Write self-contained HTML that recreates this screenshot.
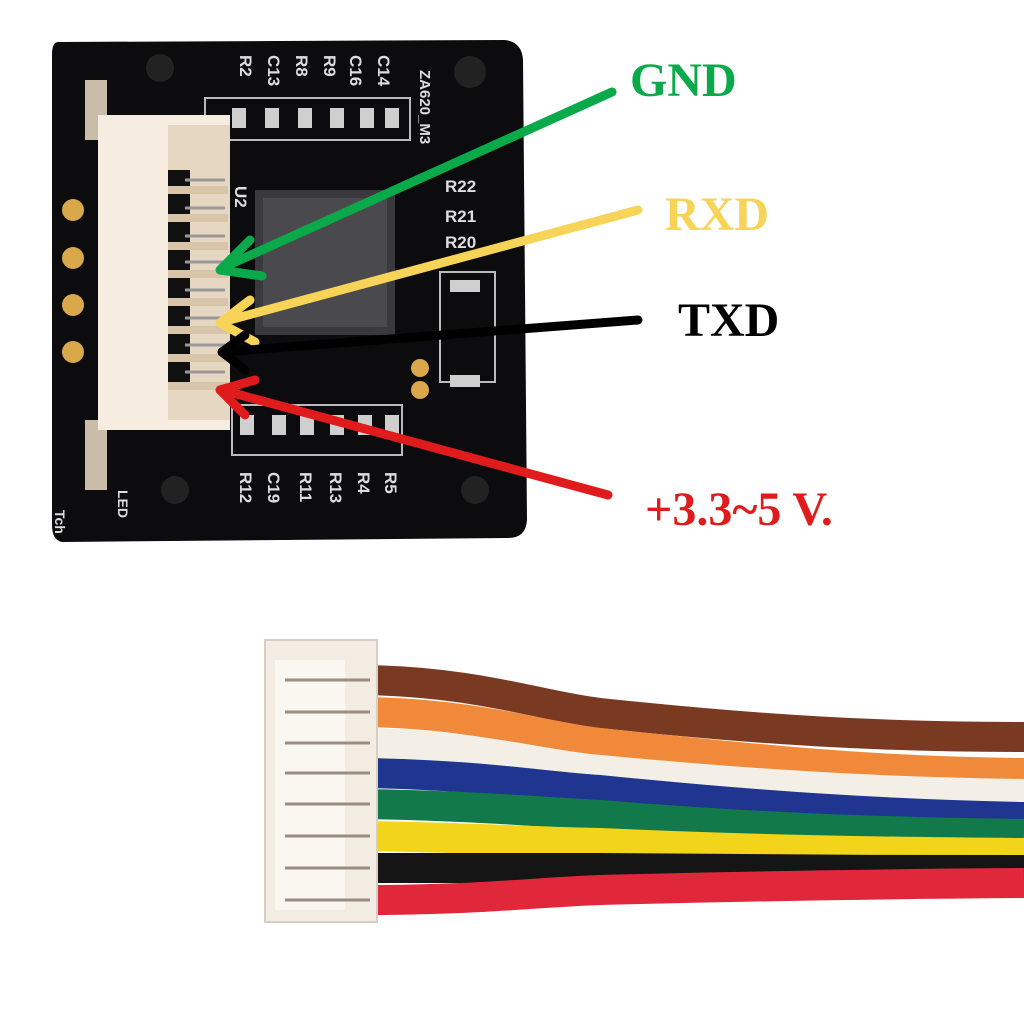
<!DOCTYPE html>
<html><head><meta charset="utf-8"><style>html,body{margin:0;padding:0;background:#fff}svg{display:block}</style></head>
<body>
<svg width="1024" height="1024" viewBox="0 0 1024 1024" xmlns="http://www.w3.org/2000/svg">
<rect width="1024" height="1024" fill="#fff"/>
<!-- PCB -->
<path d="M58,42 L505,40 Q522,42 523,60 L527,520 Q526,538 508,538 L62,542 Q52,540 52,525 L52,55 Q52,42 58,42 Z" fill="#0c0c0e"/>
<g stroke="#bbb" stroke-width="2" fill="none">
<rect x="205" y="98" width="205" height="42"/>
<rect x="440" y="272" width="55" height="110"/>
<rect x="232" y="405" width="170" height="50"/>
</g>
<g fill="#cfcfcf">
<rect x="232" y="108" width="14" height="20"/><rect x="265" y="108" width="14" height="20"/><rect x="298" y="108" width="14" height="20"/><rect x="330" y="108" width="14" height="20"/><rect x="360" y="108" width="14" height="20"/><rect x="385" y="108" width="14" height="20"/>
<rect x="240" y="415" width="14" height="20"/><rect x="272" y="415" width="14" height="20"/><rect x="300" y="415" width="14" height="20"/><rect x="330" y="415" width="14" height="20"/><rect x="358" y="415" width="14" height="20"/><rect x="385" y="415" width="14" height="20"/>
<rect x="450" y="280" width="30" height="12"/><rect x="450" y="375" width="30" height="12"/>
</g>
<g fill="#d9a84a">
<circle cx="73" cy="210" r="11"/><circle cx="73" cy="258" r="11"/><circle cx="73" cy="305" r="11"/><circle cx="73" cy="352" r="11"/>
<circle cx="420" cy="368" r="9"/><circle cx="420" cy="390" r="9"/>
</g>
<circle cx="160" cy="68" r="14" fill="#222"/><circle cx="470" cy="72" r="16" fill="#222"/>
<circle cx="175" cy="490" r="14" fill="#222"/><circle cx="475" cy="490" r="14" fill="#222"/>
<rect x="255" y="190" width="140" height="145" fill="#3a3a3e"/>
<rect x="263" y="198" width="124" height="129" fill="#4a4a4e"/>
<g fill="#ddd" font-family="Liberation Sans, sans-serif" font-weight="bold" font-size="17">
<text x="240" y="472" transform="rotate(90 240 472)">R12</text>
<text x="268" y="472" transform="rotate(90 268 472)">C19</text>
<text x="300" y="472" transform="rotate(90 300 472)">R11</text>
<text x="330" y="472" transform="rotate(90 330 472)">R13</text>
<text x="358" y="472" transform="rotate(90 358 472)">R4</text>
<text x="385" y="472" transform="rotate(90 385 472)">R5</text>
<text x="240" y="55" transform="rotate(90 240 55)">R2</text>
<text x="268" y="55" transform="rotate(90 268 55)">C13</text>
<text x="296" y="55" transform="rotate(90 296 55)">R8</text>
<text x="324" y="55" transform="rotate(90 324 55)">R9</text>
<text x="350" y="55" transform="rotate(90 350 55)">C16</text>
<text x="378" y="55" transform="rotate(90 378 55)">C14</text>
<text x="420" y="70" transform="rotate(90 420 70)" font-size="15">ZA620_M3</text>
<text x="445" y="192">R22</text><text x="445" y="222">R21</text><text x="445" y="248">R20</text>
<text x="235" y="186" transform="rotate(90 235 186)">U2</text>
<text x="55" y="510" transform="rotate(90 55 510)" font-size="14">Tch</text>
<text x="118" y="490" transform="rotate(90 118 490)" font-size="14">LED</text>
</g>
<!-- connector on PCB -->
<rect x="85" y="80" width="22" height="60" fill="#c9bca8"/>
<rect x="85" y="420" width="22" height="70" fill="#c9bca8"/>
<rect x="98" y="115" width="132" height="315" fill="#f6ecdf"/>
<rect x="168" y="125" width="62" height="295" fill="#e6d7c2"/>
<rect x="168" y="170" width="22" height="215" fill="#111"/>
<g stroke="#d8c4a8" stroke-width="8">
<line x1="168" y1="190" x2="228" y2="190"/><line x1="168" y1="218" x2="228" y2="218"/><line x1="168" y1="246" x2="228" y2="246"/><line x1="168" y1="274" x2="228" y2="274"/><line x1="168" y1="302" x2="228" y2="302"/><line x1="168" y1="330" x2="228" y2="330"/><line x1="168" y1="358" x2="228" y2="358"/><line x1="168" y1="386" x2="228" y2="386"/>
</g>
<g stroke="#999" stroke-width="3">
<line x1="185" y1="180" x2="225" y2="180"/><line x1="185" y1="208" x2="225" y2="208"/><line x1="185" y1="236" x2="225" y2="236"/><line x1="185" y1="262" x2="225" y2="262"/><line x1="185" y1="290" x2="225" y2="290"/><line x1="185" y1="318" x2="225" y2="318"/><line x1="185" y1="345" x2="225" y2="345"/><line x1="185" y1="372" x2="225" y2="372"/>
</g>
<!-- arrows -->
<g stroke-width="9" fill="none" stroke-linecap="round" stroke-linejoin="round">
<g stroke="#0aaa4a"><line x1="612" y1="92" x2="222" y2="268"/><polyline points="250,240 220,270 262,276"/></g>
<g stroke="#f7d358"><line x1="638" y1="210" x2="222" y2="322"/><polyline points="250,300 220,323 255,342"/></g>
<g stroke="#000"><line x1="638" y1="320" x2="222" y2="352"/><polyline points="245,335 222,352 245,370"/></g>
<g stroke="#e01b1b"><line x1="608" y1="495" x2="222" y2="390"/><polyline points="255,380 220,390 245,415"/></g>
</g>
<g font-family="Liberation Serif, serif" font-weight="bold" font-size="48">
<text x="630" y="96" fill="#0aaa4a">GND</text>
<text x="665" y="230" fill="#f7d358">RXD</text>
<text x="678" y="336" fill="#000">TXD</text>
<text x="645" y="525" fill="#e01b1b">+3.3~5 V.</text>
</g>
<!-- wires -->
<g fill="none" stroke-width="30">
<path d="M365,680 C480,682 540,706 600,713 C760,730 880,737 1024,737" stroke="#7a3a22"/>
<path d="M365,712 C480,714 540,736 600,743 C760,760 880,772 1024,773" stroke="#f08a3a"/>
<path d="M365,743 C480,745 540,765 600,770 C760,785 880,792 1024,794" stroke="#f4efe6"/>
<path d="M365,773 C480,775 540,786 600,790 C760,806 880,814 1024,817" stroke="#1f3590"/>
<path d="M365,804 C480,806 540,812 600,815 C760,828 880,832 1024,834" stroke="#127a4a"/>
<path d="M365,836 C480,838 540,842 600,843 C760,850 880,852 1024,853" stroke="#f2d41a"/>
<path d="M365,868 C480,868 540,868 600,868 C760,870 880,870 1024,870" stroke="#151515"/>
<path d="M365,900 C480,900 540,892 600,890 C760,886 880,884 1024,883" stroke="#e0283a"/>
</g>
<!-- cable connector -->
<rect x="265" y="640" width="112" height="282" fill="#f3ece2" stroke="#d8cfc4" stroke-width="2"/>
<rect x="275" y="660" width="70" height="250" fill="#faf6f0"/>
<g stroke="#9a8e82" stroke-width="3">
<line x1="285" y1="680" x2="370" y2="680"/><line x1="285" y1="712" x2="370" y2="712"/><line x1="285" y1="743" x2="370" y2="743"/><line x1="285" y1="773" x2="370" y2="773"/><line x1="285" y1="804" x2="370" y2="804"/><line x1="285" y1="836" x2="370" y2="836"/><line x1="285" y1="868" x2="370" y2="868"/><line x1="285" y1="900" x2="370" y2="900"/>
</g>
</svg>
</body></html>
